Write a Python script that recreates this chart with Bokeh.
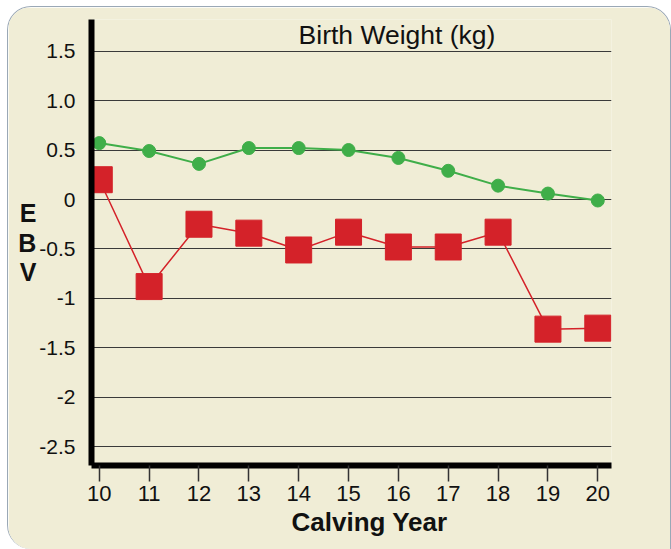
from bokeh.plotting import figure
from bokeh.models import Range1d, FixedTicker, Label, Title
from bokeh.embed import file_html
from bokeh.resources import INLINE

# ---- data ----
years = [10, 11, 12, 13, 14, 15, 16, 17, 18, 19, 20]
breed_avg = [0.57, 0.49, 0.36, 0.52, 0.52, 0.50, 0.42, 0.29, 0.14, 0.06, -0.01]
herd_ebv = [0.20, -0.88, -0.25, -0.34, -0.51, -0.33, -0.48, -0.48, -0.33, -1.31, -1.30]
y_ticks = [-2.5, -2.0, -1.5, -1.0, -0.5, 0.0, 0.5, 1.0, 1.5]
y_tick_labels = ["-2.5", "-2", "-1.5", "-1", "-0.5", "0", "0.5", "1.0", "1.5"]
title_text = "Birth Weight (kg)"
x_title = "Calving Year"
y_title = "E\nB\nV"

PANEL = "#f0edd6"
GREEN = "#3fae49"
RED = "#d42229"

p = figure(width=664, height=543, output_backend="svg", toolbar_location=None,
           x_range=Range1d(9.844, 20.275), y_range=Range1d(-2.688, 1.819),
           min_border_left=83, min_border_right=61, min_border_top=12, min_border_bottom=85)
p.margin = (6, 0, 0, 7)
p.styles = {"border-top": "1.5px solid #9aa8b6", "border-left": "1.5px solid #9aa8b6",
            "border-right": "1.5px solid #9aa8b6",
            "border-radius": "24px 24px 0 24px", "overflow": "hidden"}
p.background_fill_color = PANEL
p.border_fill_color = PANEL
p.outline_line_color = None

# axes
p.xaxis.ticker = FixedTicker(ticks=years)
p.yaxis.ticker = FixedTicker(ticks=y_ticks)
p.yaxis.major_label_overrides = {t: l for t, l in zip(y_ticks, y_tick_labels)}
for ax in (p.xaxis, p.yaxis):
    ax.axis_line_width = 6
    ax.axis_line_color = "black"
    ax.minor_tick_line_color = None
    ax.major_label_text_font = "Liberation Sans"
    ax.major_label_text_color = "#111111"
p.xaxis.major_tick_out = 16
p.xaxis.major_tick_in = 0
p.xaxis.major_tick_line_width = 1.5
p.xaxis.major_tick_line_color = "#333333"
p.xaxis.major_label_standoff = 4
p.xaxis.major_label_text_font_size = "22px"
p.yaxis.major_tick_out = 0
p.yaxis.major_tick_in = 0
p.yaxis.major_label_standoff = 16
p.yaxis.major_label_text_font_size = "21px"

p.yaxis.axis_label = y_title
p.yaxis.axis_label_orientation = "horizontal"
p.yaxis.axis_label_standoff = 0
p.yaxis.axis_label_text_font = "Liberation Sans"
p.yaxis.axis_label_text_font_size = "25px"
p.yaxis.axis_label_text_font_style = "bold"
p.yaxis.axis_label_text_color = "#111111"
p.yaxis.axis_label_text_line_height = 1.05

p.add_layout(Title(text=x_title, align="left", offset=200, standoff=2,
                   text_font="Liberation Sans", text_font_size="26px", text_font_style="bold",
                   text_color="#111111"), "below")

p.xgrid.grid_line_color = None
p.ygrid.grid_line_color = "#3a3a3a"
p.ygrid.grid_line_width = 1.2

# series
p.line(years, breed_avg, line_color=GREEN, line_width=2)
p.scatter(years, breed_avg, marker="circle", size=13, fill_color=GREEN, line_color=GREEN)
p.line(years, herd_ebv, line_color=RED, line_width=1.5)
p.scatter(years, herd_ebv, marker="square", size=26, fill_color=RED, line_color=RED)

# chart title inside the plot frame (screen units relative to the frame)
p.add_layout(Label(x=305.5, y=431, x_units="screen", y_units="screen", text=title_text,
                   text_font="Liberation Sans", text_font_size="26.5px", text_align="center",
                   text_baseline="alphabetic", text_color="#111111"))

open("out.html", "w").write(file_html(p, INLINE))
